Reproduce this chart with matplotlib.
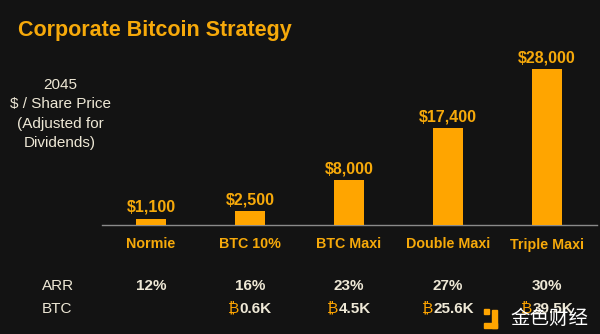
import matplotlib
matplotlib.use("Agg")
import matplotlib.pyplot as plt
from matplotlib.transforms import blended_transform_factory, offset_copy
from matplotlib.patches import Rectangle

# ---- data ----
categories = ["Normie", "BTC 10%", "BTC Maxi", "Double Maxi", "Triple Maxi"]
prices = [1100, 2500, 8000, 17400, 28000]
price_labels = ["$1,100", "$2,500", "$8,000", "$17,400", "$28,000"]
arr_labels = ["12%", "16%", "23%", "27%", "30%"]
btc_labels = ["", "0.6K", "4.5K", "25.6K", "39.5K"]

title = "Corporate Bitcoin Strategy"
ylabel_text = "2045\n$ / Share Price\n(Adjusted for\nDividends)"

BG = "#131313"
ORANGE = "#FFA500"
TXT_OR = "#F6A90A"
CREAM = "#EEE8D6"
FAM = ["Liberation Sans", "Noto Sans", "DejaVu Sans"]

plt.rcParams["font.family"] = FAM

fig = plt.figure(figsize=(6.0, 3.34), dpi=100, facecolor=BG)
W, H = 600, 334

# axes: x from 101.5px to 596.5px, y from 225px(bottom) to 45px(top)
ax = fig.add_axes([101.5 / W, 1 - 225 / H, 495 / W, 180 / H])
ax.set_facecolor(BG)
x = list(range(len(categories)))
ax.bar(x, prices, width=0.31, color=ORANGE, zorder=3)
ax.set_xlim(-0.5, len(categories) - 0.5)
ax.set_ylim(0, max(prices) * 180 / 156)
for s in ["top", "right", "left"]:
    ax.spines[s].set_visible(False)
ax.spines["bottom"].set_color("#8a8a8a")
ax.spines["bottom"].set_linewidth(1.0)
ax.set_yticks([])
ax.set_xticks(x)
ax.set_xticklabels(categories, color=TXT_OR, fontsize=10.3, fontweight="bold")
ax.tick_params(axis="x", length=0, pad=9)

for xi, v, lab in zip(x, prices, price_labels):
    ax.annotate(lab, (xi, v), xytext=(0, 5), textcoords="offset points",
                ha="center", va="baseline", color=TXT_OR,
                fontsize=11.5, fontweight="bold")

# title
fig.text(18 / W, 1 - 36 / H, title, color=TXT_OR, fontsize=15.5,
         fontweight="bold", ha="left", va="baseline")

# y label block
fig.text(60 / W, 1 - 114 / H, ylabel_text, color=CREAM, fontsize=11,
         ha="center", va="center", linespacing=1.5, multialignment="center")

# table rows
tr = blended_transform_factory(ax.transData, fig.transFigure)
y_arr = 1 - 289.5 / H
y_btc = 1 - 312.7 / H
fig.text(42 / W, y_arr, "ARR", color=CREAM, fontsize=11, ha="left", va="baseline")
fig.text(42 / W, y_btc, "BTC", color=CREAM, fontsize=11, ha="left", va="baseline")
for xi, a in zip(x, arr_labels):
    ax.text(xi, y_arr, a, transform=tr, color=CREAM, fontsize=11,
            fontweight="bold", ha="center", va="baseline")

fig.canvas.draw()
renderer = fig.canvas.get_renderer()
for xi, b in zip(x, btc_labels):
    if not b:
        continue
    num = ax.text(xi, y_btc, b, transform=tr, fontsize=11,
                  fontweight="bold", ha="center", va="baseline", alpha=0)
    sym = ax.text(xi, y_btc, "\u20bf", transform=tr, fontsize=11,
                  fontweight="normal", ha="center", va="baseline", alpha=0)
    wn = num.get_window_extent(renderer).width
    ws = sym.get_window_extent(renderer).width
    wf = wn + ws
    num.remove()
    sym.remove()
    t1 = offset_copy(tr, fig=fig, x=-wf / 2, y=0, units="dots")
    t2 = offset_copy(tr, fig=fig, x=-wf / 2 + ws, y=0, units="dots")
    ax.text(xi, y_btc, "\u20bf", transform=t1, fontsize=11, fontweight="normal",
            color=ORANGE, ha="left", va="baseline")
    ax.text(xi, y_btc, b, transform=t2, fontsize=11, fontweight="bold",
            color=CREAM, ha="left", va="baseline")

# watermark
fig.patches.append(Rectangle((484 / W, 1 - 328 / H), 13 / W, 5 / H,
                             transform=fig.transFigure, color=ORANGE))
fig.patches.append(Rectangle((492 / W, 1 - 328 / H), 5 / W, 18 / H,
                             transform=fig.transFigure, color=ORANGE))
fig.patches.append(Rectangle((484 / W, 1 - 314 / H), 5 / W, 5 / H,
                             transform=fig.transFigure, color=ORANGE))
fig.text(549 / W, 1 - 318 / H, "金色财经", color="white", fontsize=14,
         family=["Noto Sans CJK SC", "DejaVu Sans"], ha="center", va="center")

fig.savefig("out.png", dpi=100, facecolor=BG)
